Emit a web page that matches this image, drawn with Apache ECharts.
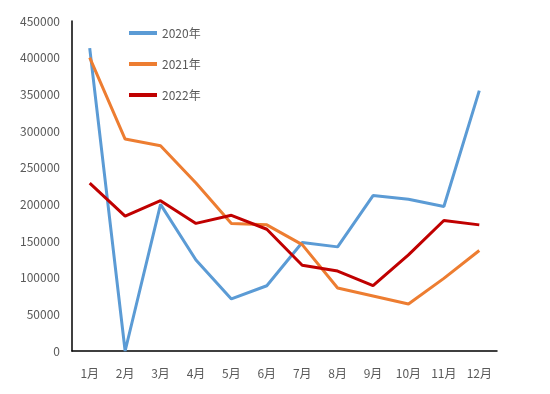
<!DOCTYPE html>
<html>
<head>
<meta charset="utf-8">
<script src="https://cdn.jsdelivr.net/npm/echarts@6/dist/echarts.min.js"></script>
<style>html,body{margin:0;padding:0;background:#fff}#c{width:550px;height:394px}</style>
</head>
<body>
<div id="c"></div>
<script>
var categories = ['1月','2月','3月','4月','5月','6月','7月','8月','9月','10月','11月','12月'];
var s2020 = [413000, 0, 200000, 124000, 71000, 89000, 148000, 142000, 212000, 207000, 197000, 355000];
var s2021 = [400000, 289000, 280000, 229000, 174000, 172000, 145000, 86000, 75000, 64000, 99000, 137000];
var s2022 = [229000, 184000, 205000, 174000, 185000, 166000, 117000, 109000, 89000, 131000, 178000, 172000];
var seriesNames = ['2020年','2021年','2022年'];
var colors = ['#5B9BD5','#ED7D31','#C00000'];

var font = "'Liberation Sans Narrow','Noto Sans CJK SC',sans-serif";
var chart = echarts.init(document.getElementById('c'), null, {renderer:'canvas'});
function mk(name, data, color){
  return {name:name, type:'line', data:data, symbol:'none', smooth:false,
    lineStyle:{width:3, color:color}, itemStyle:{color:color}};
}
chart.setOption({
  animation:false,
  backgroundColor:'#ffffff',
  grid:{left:72, right:53, top:21, bottom:43, containLabel:false},
  legend:{
    orient:'vertical', left:124, top:22, icon:'rect', itemWidth:28, itemHeight:4, itemGap:19,
    textStyle:{color:'#595959', fontSize:12, fontFamily:font},
    data:seriesNames
  },
  xAxis:{
    type:'category', data:categories, boundaryGap:true,
    axisLine:{lineStyle:{color:'#000', width:1.5}},
    axisTick:{show:false},
    axisLabel:{color:'#595959', fontSize:12, fontFamily:font, margin:16}
  },
  yAxis:{
    type:'value', min:0, max:450000, interval:50000,
    axisLine:{show:true, lineStyle:{color:'#000', width:1.5}},
    axisTick:{show:false},
    splitLine:{show:false},
    axisLabel:{color:'#595959', fontSize:12, fontFamily:font, margin:12,
      formatter:function(v){return String(v);}}
  },
  series:[mk(seriesNames[0], s2020, colors[0]), mk(seriesNames[1], s2021, colors[1]), mk(seriesNames[2], s2022, colors[2])]
});
</script>
</body>
</html>
